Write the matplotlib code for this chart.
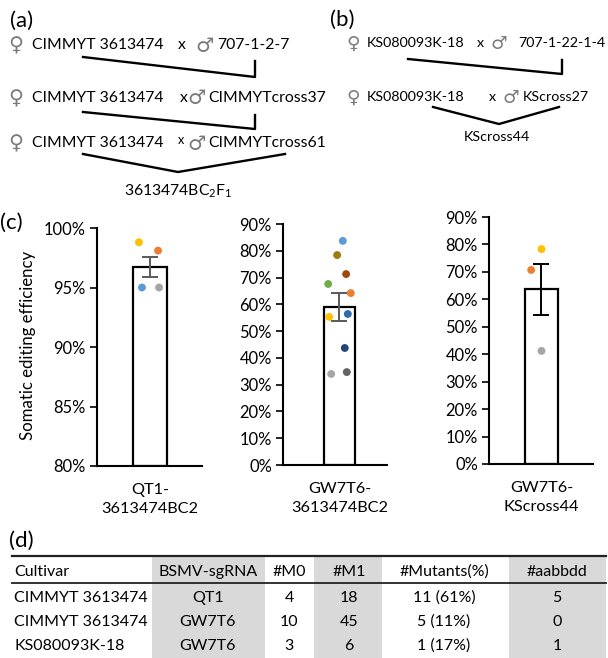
import matplotlib
matplotlib.use("Agg")
import matplotlib.pyplot as plt
from matplotlib.ticker import PercentFormatter, MultipleLocator
from matplotlib.patches import Rectangle

plt.rcParams['font.family'] = ['Lato', 'DejaVu Sans']
plt.rcParams['mathtext.fontset'] = 'custom'
plt.rcParams['mathtext.rm'] = 'Lato'

# ---------------- data ----------------
bar_labels = ["QT1-\n3613474BC2", "GW7T6-\n3613474BC2", "GW7T6-\nKScross44"]
bar_means = [96.7, 59.0, 63.6]
bar_sems = [0.85, 5.2, 9.3]

qt1_points = [98.8, 98.1, 95.0, 95.0]
qt1_colors = ['#FFC000', '#ED7D31', '#5B9BD5', '#A5A5A5']
qt1_jitter = [-0.33, 0.24, -0.24, 0.27]

gw_points = [83.7, 78.4, 71.3, 67.6, 64.2, 55.3, 56.4, 43.7, 34.0, 34.7]
gw_colors = ['#5B9BD5', '#9C7C0E', '#9E480E', '#70AD47', '#ED7D31',
             '#FFC000', '#2E6AA8', '#264478', '#A5A5A5', '#636363']
gw_jitter = [0.10, -0.07, 0.20, -0.34, 0.34, -0.31, 0.25, 0.16, -0.25, 0.22]

ks_points = [78.3, 70.7, 41.2]
ks_colors = ['#FFC000', '#ED7D31', '#A5A5A5']
ks_jitter = [0.0, -0.31, 0.0]

table_header = ["Cultivar", "BSMV-sgRNA", "#M0", "#M1", "#Mutants(%)", "#aabbdd"]
table_cultivar = ["CIMMYT 3613474", "CIMMYT 3613474", "KS080093K-18"]
table_sgrna = ["QT1", "GW7T6", "GW7T6"]
table_m0 = ["4", "10", "3"]
table_m1 = ["18", "45", "6"]
table_mutants = ["11 (61%)", "5 (11%)", "1 (17%)"]
table_aabbdd = ["5", "0", "1"]

W, H = 608, 658
fig = plt.figure(figsize=(W / 100, H / 100), dpi=100)
renderer = fig.canvas.get_renderer()

def fit_size(s, target_px, **kw):
    t = fig.text(0, 0, s, fontsize=10, **kw)
    w = t.get_window_extent(renderer).width
    t.remove()
    return 10 * target_px / w

FS = fit_size('CIMMYT 3613474', 131)
FSB = min(fit_size('KS080093K-18', 106), fit_size('707-1-22-1-4', 87))
TFS = fit_size('CIMMYT 3613474', 133)
TK = fit_size('100%', 42)
XL = fit_size('3613474BC2', 97)
YL = fit_size('Somatic editing efficiency', 190)
PL = fit_size('(a)', 23)

# overlay axes in pixel coordinates for diagrams and table
ov = fig.add_axes([0, 0, 1, 1])
ov.set_xlim(0, W)
ov.set_ylim(H, 0)
ov.axis('off')

SYM = '#7a7a7a'
lw_d = 1.7

def name(x0, y, s, fs):
    ov.text(x0, y, s, fontsize=fs, va='center', ha='left')

def sym(x, y, s, fs):
    ov.text(x, y + 1, s, fontsize=fs * 1.3, color=SYM, va='center', ha='left',
            family='DejaVu Sans')

def xmark(x, y, fs):
    ov.text(x, y, 'x', fontsize=fs, va='center', ha='left')

# panel (a)
ov.text(10, 21, '(a)', fontsize=PL, va='center', ha='left')
sym(8, 45, '\u2640', FS); name(32, 45, 'CIMMYT 3613474', FS); xmark(178, 45, FS)
sym(195, 45, '\u2642', FS); name(217, 45, '707-1-2-7', FS)
ov.plot([83, 255, 255], [57, 77, 61], color='black', lw=lw_d)

sym(8, 98, '\u2640', FS); name(32, 98, 'CIMMYT 3613474', FS); xmark(180, 98, FS)
sym(187, 98, '\u2642', FS); name(208, 98, 'CIMMYTcross37', FS)
ov.plot([83, 255, 255], [112, 129, 115], color='black', lw=lw_d)

sym(8, 143, '\u2640', FS); name(32, 143, 'CIMMYT 3613474', FS); xmark(178, 140, FS * 0.8)
sym(187, 143, '\u2642', FS); name(208, 143, 'CIMMYTcross61', FS)
ov.plot([83, 178, 285], [154, 172, 154], color='black', lw=lw_d)
ov.text(178, 191, r'3613474BC$_\mathregular{2}$F$_\mathregular{1}$', fontsize=FS,
        va='center', ha='center')

# panel (b)
ov.text(330, 20, '(b)', fontsize=PL, va='center', ha='left')
sym(346, 43, '\u2640', FSB); name(367, 43, 'KS080093K-18', FSB); xmark(477, 43, FSB)
sym(490, 43, '\u2642', FSB); name(518, 43, '707-1-22-1-4', FSB)
ov.plot([408, 562, 562], [59, 74, 60], color='black', lw=lw_d)

sym(346, 97, '\u2640', FSB); name(367, 97, 'KS080093K-18', FSB); xmark(489, 97, FSB)
sym(502, 97, '\u2642', FSB); name(523, 97, 'KScross27', FSB)
ov.plot([433, 499, 559], [107, 124, 107], color='black', lw=lw_d)
ov.text(497, 137, 'KScross44', fontsize=FSB, va='center', ha='center')

# panel (c)
ov.text(0, 223, '(c)', fontsize=PL, va='center', ha='left')
ov.text(28, 345, 'Somatic editing efficiency', fontsize=YL, rotation=90,
        va='center', ha='center')

def add_ax(left, top, right, bottom):
    return fig.add_axes([left / W, 1 - bottom / H, (right - left) / W, (bottom - top) / H])

axes = [add_ax(97, 228, 202, 466), add_ax(283, 224, 387, 465), add_ax(489, 217, 593, 464)]
ylims = [(80, 100), (0, 90), (0, 90)]
steps = [5, 10, 10]
pts = [qt1_points, gw_points, ks_points]
cols = [qt1_colors, gw_colors, ks_colors]
jits = [qt1_jitter, gw_jitter, ks_jitter]
ecols = ['#595959', '#595959', 'black']
widths = [1.0, 0.93, 0.98]
xlims = [(-1.58, 1.55), (-1.7, 1.43), (-1.58, 1.55)]

for i, ax in enumerate(axes):
    ax.set_xlim(*xlims[i])
    ax.set_ylim(*ylims[i])
    base = ylims[i][0]
    ax.bar([0], [bar_means[i] - base], bottom=base, width=widths[i],
           color='white', edgecolor='black', linewidth=1.6, zorder=2)
    ax.errorbar([0], [bar_means[i]], yerr=[bar_sems[i]], color=ecols[i],
                capsize=6, elinewidth=1.4, capthick=1.4, zorder=3)
    ax.scatter(jits[i], pts[i], s=32, c=cols[i], zorder=4, linewidths=0)
    ax.yaxis.set_major_locator(MultipleLocator(steps[i]))
    ax.yaxis.set_major_formatter(PercentFormatter(decimals=0))
    for s in ['top', 'right']:
        ax.spines[s].set_visible(False)
    for s in ['left', 'bottom']:
        ax.spines[s].set_linewidth(1.5)
    ax.tick_params(axis='y', direction='out', length=5, width=1.2, labelsize=TK, pad=3)
    ax.set_xticks([0])
    ax.set_xticklabels([bar_labels[i]], fontsize=XL, linespacing=1.5)
    ax.tick_params(axis='x', length=0, pad=12)
    ax.patch.set_alpha(0)

# panel (d) table
ov.text(9, 541, '(d)', fontsize=PL, va='center', ha='left')
gray = '#D9D9D9'
for x0, x1 in [(152, 265), (314, 382), (509, 606)]:
    ov.add_patch(Rectangle((x0, 557), x1 - x0, H - 557, color=gray, lw=0, zorder=0))
ov.plot([12, 606], [556, 556], color='#222222', lw=1.6)
ov.plot([12, 606], [583, 583], color='#222222', lw=1.3)

col_x = [14, 208, 289, 349, 444, 557]
col_ha = ['left', 'center', 'center', 'center', 'center', 'center']
for x, ha, t in zip(col_x, col_ha, table_header):
    ov.text(x, 572, t, fontsize=TFS, va='center', ha=ha)
row_y = [598, 622, 646]
columns = [table_cultivar, table_sgrna, table_m0, table_m1, table_mutants, table_aabbdd]
for c, (x, ha) in enumerate(zip(col_x, col_ha)):
    for r, y in enumerate(row_y):
        ov.text(x, y, columns[c][r], fontsize=TFS, va='center', ha=ha)

fig.savefig('out.png', dpi=100)
